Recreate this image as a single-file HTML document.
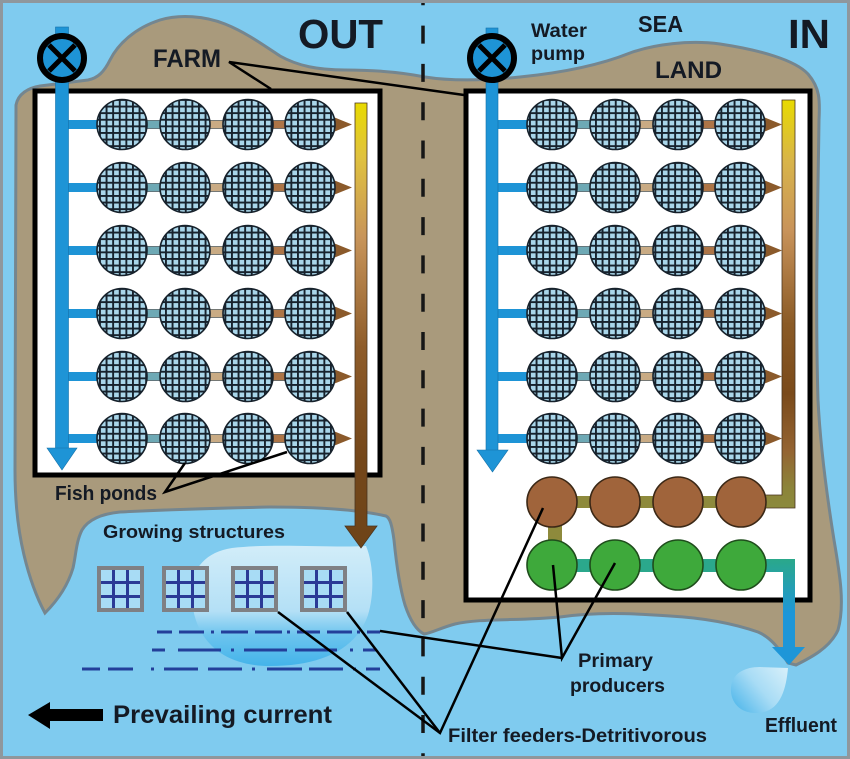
<!DOCTYPE html>
<html><head><meta charset="utf-8"><style>
html,body{margin:0;padding:0;background:#7fcbef;}
svg{display:block;}
text{font-family:"Liberation Sans",Arial,sans-serif;font-weight:bold;fill:#141a24;}
</style></head><body>
<svg width="850" height="759" viewBox="0 0 850 759" xmlns="http://www.w3.org/2000/svg">
<defs>
<pattern id="mesh" patternUnits="userSpaceOnUse" width="6.6" height="6.6">
<rect width="6.6" height="6.6" fill="#17222d"/>
<rect x="1.9" y="1.9" width="4.7" height="4.7" fill="#a9d6ea"/>
</pattern>
<linearGradient id="colL" x1="0" y1="103" x2="0" y2="548" gradientUnits="userSpaceOnUse">
<stop offset="0" stop-color="#e8da00"/><stop offset="0.12" stop-color="#e0c23e"/>
<stop offset="0.3" stop-color="#c8955a"/><stop offset="0.55" stop-color="#8e5c2a"/>
<stop offset="0.8" stop-color="#74471a"/><stop offset="1" stop-color="#6e4418"/>
</linearGradient>
<linearGradient id="colR" x1="0" y1="100" x2="0" y2="508" gradientUnits="userSpaceOnUse">
<stop offset="0" stop-color="#e8da00"/><stop offset="0.15" stop-color="#d8b44a"/>
<stop offset="0.32" stop-color="#c8935a"/><stop offset="0.55" stop-color="#8a5a26"/>
<stop offset="0.72" stop-color="#7a4a1a"/><stop offset="0.86" stop-color="#946432"/>
<stop offset="0.95" stop-color="#8c843a"/><stop offset="1" stop-color="#8c8a3c"/>
</linearGradient>
<linearGradient id="eff" x1="0" y1="559" x2="0" y2="650" gradientUnits="userSpaceOnUse">
<stop offset="0" stop-color="#2aa88a"/><stop offset="0.6" stop-color="#1e96d8"/><stop offset="1" stop-color="#1e96d8"/>
</linearGradient>
<linearGradient id="plume" x1="0" y1="545" x2="0" y2="665" gradientUnits="userSpaceOnUse">
<stop offset="0" stop-color="#d2edf9"/><stop offset="0.55" stop-color="#b4e0f6"/>
<stop offset="0.75" stop-color="#6cc4ee"/><stop offset="1" stop-color="#45b4ea"/>
</linearGradient>
<linearGradient id="drop" x1="788" y1="668" x2="735" y2="712" gradientUnits="userSpaceOnUse">
<stop offset="0" stop-color="#d8f0fa"/><stop offset="0.5" stop-color="#a8dcf5"/><stop offset="1" stop-color="#4db6ea"/>
</linearGradient>
<g id="rowL">
<rect x="64" y="120" width="35" height="9" fill="#1e94d6"/>
<rect x="145" y="120.5" width="17" height="8" fill="#6ea9b5" stroke="#2b3a40" stroke-width="0.6"/>
<rect x="208" y="120.5" width="17" height="8" fill="#c9ab84" stroke="#2b3a40" stroke-width="0.6"/>
<rect x="271" y="120.5" width="17" height="8" fill="#ad7547" stroke="#2b3a40" stroke-width="0.6"/>
<polygon points="326,114 352,124.5 326,135" fill="#8b5a2b"/>
<circle cx="122" cy="124.5" r="25" fill="url(#mesh)" stroke="#16212b" stroke-width="1.6"/>
<circle cx="185" cy="124.5" r="25" fill="url(#mesh)" stroke="#16212b" stroke-width="1.6"/>
<circle cx="248" cy="124.5" r="25" fill="url(#mesh)" stroke="#16212b" stroke-width="1.6"/>
<circle cx="310" cy="124.5" r="25" fill="url(#mesh)" stroke="#16212b" stroke-width="1.6"/>
</g>
<g id="sq">
<rect x="99" y="568" width="43" height="42" fill="#a8dcf5" stroke="#7f8084" stroke-width="4"/>
<path d="M113.5 570V608M127.5 570V608M101 582.5H140M101 596.5H140" stroke="#2b3a96" stroke-width="3"/>
</g>
</defs>

<!-- sea -->
<rect x="0" y="0" width="850" height="759" fill="#7fcbef"/>

<!-- land -->
<path d="M16,105 C18,94 28,88 40,86 L88,80 C98,78 104,72 110,60 C118,44 135,28 160,20 C180,14 205,16 225,24 C245,32 262,44 280,56 C298,66 318,70 345,70 C375,70 400,72 425,77 C450,81 480,81 520,77 C560,73 600,65 630,53 C655,44 690,40 720,44 C760,50 795,60 808,74 C820,88 820,100 819,120 C818,200 815,300 818,400 C820,440 826,490 834,540 C840,575 845,605 838,630 C830,648 810,658 796,665 L788,663 C780,650 772,638 758,632 C735,624 705,618 670,616 C630,613 595,612 560,617 C520,621 480,618 455,624 C440,628 432,633 424,634 C416,630 410,620 405,605 C399,585 396,560 394,540 C392,525 390,518 386,516 C360,510 320,507 270,507 C220,508 160,510 120,512 C100,514 88,520 82,530 C76,542 76,555 73,568 C68,585 58,600 45,613 C38,600 30,580 24,555 C18,530 15,500 15,470 L16,105 Z" fill="#a99a7c" stroke="#75868f" stroke-width="3"/>

<!-- plume & drop -->
<path d="M192,600 C188,572 204,552 232,548 C275,543 330,548 366,546 C373,562 375,592 368,615 C356,650 320,666 270,666 C222,666 195,640 192,600 Z" fill="url(#plume)"/>
<path d="M788,668 C786,690 780,713 756,713 C738,713 730,700 731,688 C732,673 745,667 760,667 Z" fill="url(#drop)"/>

<!-- center dashed line -->
<line x1="423" y1="0" x2="423" y2="759" stroke="#161616" stroke-width="3.5" stroke-dasharray="18 20.3" stroke-dashoffset="12.7"/>

<!-- farm rects -->
<rect x="35" y="91" width="345" height="384" fill="#ffffff" stroke="#000" stroke-width="5"/>
<rect x="466" y="91" width="344" height="509" fill="#ffffff" stroke="#000" stroke-width="5"/>

<!-- pond rows -->
<use href="#rowL"/>
<use href="#rowL" transform="translate(0,63)"/>
<use href="#rowL" transform="translate(0,126)"/>
<use href="#rowL" transform="translate(0,189)"/>
<use href="#rowL" transform="translate(0,252)"/>
<use href="#rowL" transform="translate(0,314)"/>
<use href="#rowL" transform="translate(430,0)"/>
<use href="#rowL" transform="translate(430,63)"/>
<use href="#rowL" transform="translate(430,126)"/>
<use href="#rowL" transform="translate(430,189)"/>
<use href="#rowL" transform="translate(430,252)"/>
<use href="#rowL" transform="translate(430,314)"/>

<!-- main pipes -->
<rect x="55.5" y="27" width="13" height="423" fill="#1e94d6" stroke="#1470a8" stroke-width="0.6"/>
<polygon points="47,448 77,448 62,470" fill="#1e94d6" stroke="#1470a8" stroke-width="0.6"/>
<rect x="486" y="28" width="12" height="424" fill="#1e94d6" stroke="#1470a8" stroke-width="0.6"/>
<polygon points="477,450 508,450 492.5,472" fill="#1e94d6" stroke="#1470a8" stroke-width="0.6"/>

<!-- pumps -->
<circle cx="62" cy="58" r="22" fill="#1e94d6" stroke="#000" stroke-width="6"/>
<path d="M49,45 L75,71 M75,45 L49,71" stroke="#000" stroke-width="5"/>
<circle cx="492" cy="58" r="22" fill="#1e94d6" stroke="#000" stroke-width="6"/>
<path d="M479,45 L505,71 M505,45 L479,71" stroke="#000" stroke-width="5"/>

<!-- collectors -->
<path d="M355,103 H367 V526 H377 L361,548 L345,526 H355 Z" fill="url(#colL)" stroke="#4a3520" stroke-width="0.8"/>
<path d="M782,100 H795 V508 H762 V495 H782 Z" fill="url(#colR)" stroke="#4a3520" stroke-width="0.8"/>

<!-- brown / green rows -->
<rect x="548" y="522" width="14" height="22" fill="#8e8a3c"/>
<rect x="575" y="496" width="17" height="12" fill="#8e8a3c"/>
<rect x="638" y="496" width="17" height="12" fill="#8e8a3c"/>
<rect x="701" y="496" width="17" height="12" fill="#8e8a3c"/>
<circle cx="552" cy="502" r="25" fill="#a0643b" stroke="#3b2816" stroke-width="1.6"/>
<circle cx="615" cy="502" r="25" fill="#a0643b" stroke="#3b2816" stroke-width="1.6"/>
<circle cx="678" cy="502" r="25" fill="#a0643b" stroke="#3b2816" stroke-width="1.6"/>
<circle cx="741" cy="502" r="25" fill="#a0643b" stroke="#3b2816" stroke-width="1.6"/>

<path d="M762,559 H795 V650 H783 V572 H762 Z" fill="url(#eff)"/>
<polygon points="772,647 805,647 789,665" fill="#1e96d8"/>
<rect x="575" y="559" width="17" height="13" fill="#2ba88c"/>
<rect x="638" y="559" width="17" height="13" fill="#2ba88c"/>
<rect x="701" y="559" width="17" height="13" fill="#2ba88c"/>
<circle cx="552" cy="565" r="25" fill="#3ea93b" stroke="#1f4d1c" stroke-width="1.6"/>
<circle cx="615" cy="565" r="25" fill="#3ea93b" stroke="#1f4d1c" stroke-width="1.6"/>
<circle cx="678" cy="565" r="25" fill="#3ea93b" stroke="#1f4d1c" stroke-width="1.6"/>
<circle cx="741" cy="565" r="25" fill="#3ea93b" stroke="#1f4d1c" stroke-width="1.6"/>

<!-- growing structures -->
<use href="#sq"/>
<use href="#sq" transform="translate(65,0)"/>
<use href="#sq" transform="translate(134,0)"/>
<use href="#sq" transform="translate(203,0)"/>

<!-- dash-dot lines -->
<line x1="157" y1="632" x2="380" y2="632" stroke="#233f9a" stroke-width="3" stroke-dasharray="15 7 25 7 3 7 27 7 27 5 3 7 23 7 25 5 3 7 27 7 27 5 3 7"/>
<line x1="152" y1="650" x2="378" y2="650" stroke="#233f9a" stroke-width="3" stroke-dasharray="13 13 43 10 3 10 43 8 42 13 3 10"/>
<line x1="82" y1="669" x2="380" y2="669" stroke="#233f9a" stroke-width="3" stroke-dasharray="18 8 25 18 3 10 34 10 34 10 3 12 35 7 34 10 3 10"/>

<!-- pointer lines -->
<g stroke="#000" stroke-width="2.5" fill="none">
<path d="M271,89 L229,62 L464,95"/>
<path d="M185,463 L165,492 L287,452"/>
<path d="M553,565 L562,658 L615,563"/>
<path d="M380,631 L562,658"/>
<path d="M543,508 L440,733 L278,612"/>
<path d="M440,733 L347,612"/>
</g>

<!-- prevailing current arrow -->
<polygon points="28,715 50,702 50,709 103,709 103,721 50,721 50,729" fill="#000"/>

<!-- labels -->
<text x="298" y="48" font-size="41" textLength="85" lengthAdjust="spacingAndGlyphs">OUT</text>
<text x="788" y="48" font-size="41" textLength="42" lengthAdjust="spacingAndGlyphs">IN</text>
<text x="153" y="67" font-size="25" textLength="68" lengthAdjust="spacingAndGlyphs">FARM</text>
<text x="531" y="37" font-size="19" textLength="56" lengthAdjust="spacingAndGlyphs">Water</text>
<text x="531" y="60" font-size="19" textLength="54" lengthAdjust="spacingAndGlyphs">pump</text>
<text x="638" y="32" font-size="23" textLength="45" lengthAdjust="spacingAndGlyphs">SEA</text>
<text x="655" y="78" font-size="24" textLength="67" lengthAdjust="spacingAndGlyphs">LAND</text>
<text x="55" y="500" font-size="20" textLength="102" lengthAdjust="spacingAndGlyphs">Fish ponds</text>
<text x="103" y="538" font-size="18" textLength="182" lengthAdjust="spacingAndGlyphs">Growing structures</text>
<text x="113" y="723" font-size="25" textLength="219" lengthAdjust="spacingAndGlyphs">Prevailing current</text>
<text x="578" y="667" font-size="19" textLength="75" lengthAdjust="spacingAndGlyphs">Primary</text>
<text x="570" y="692" font-size="19" textLength="95" lengthAdjust="spacingAndGlyphs">producers</text>
<text x="765" y="732" font-size="20" textLength="72" lengthAdjust="spacingAndGlyphs">Effluent</text>
<text x="448" y="742" font-size="19" textLength="259" lengthAdjust="spacingAndGlyphs">Filter feeders-Detritivorous</text>

<!-- frame -->
<rect x="1.5" y="1.5" width="847" height="756" fill="none" stroke="#8f979c" stroke-width="3"/>
</svg>
</body></html>
